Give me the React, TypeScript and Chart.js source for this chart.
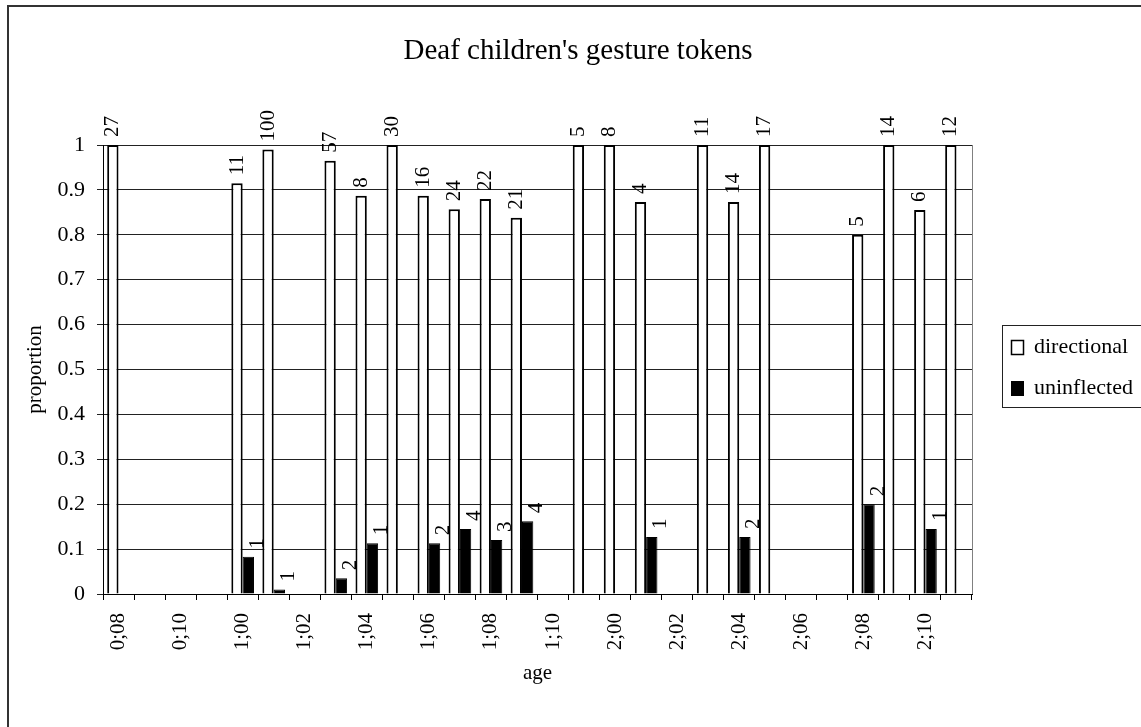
import React, { useEffect, useRef } from 'react';
import { Chart, registerables } from 'chart.js';

Chart.register(...registerables);

const chartTitle = "Deaf children's gesture tokens";
const xTitle = 'age';
const yTitle = 'proportion';
const seriesNames = ['directional', 'uninflected'];

const ages = [
  '0;08', '0;09', '0;10', '0;11', '1;00', '1;01', '1;02', '1;03', '1;04', '1;05',
  '1;06', '1;07', '1;08', '1;09', '1;10', '1;11', '2;00', '2;01', '2;02', '2;03',
  '2;04', '2;05', '2;06', '2;07', '2;08', '2;09', '2;10', '2;11',
];

const directional = [
  1.0, null, null, null, 0.915, 0.99, null, 0.965, 0.887, 1.0,
  0.887, 0.857, 0.88, 0.838, null, 1.0, 1.0, 0.873, null, 1.0,
  0.873, 1.0, null, null, 0.8, 1.0, 0.855, 1.0,
];

const uninflected = [
  null, null, null, null, 0.083, 0.01, null, 0.035, 0.113, null,
  0.113, 0.145, 0.12, 0.162, null, null, null, 0.127, null, null,
  0.127, null, null, null, 0.2, null, 0.145, null,
];

const directionalCounts = [
  27, null, null, null, 11, 100, null, 57, 8, 30,
  16, 24, 22, 21, null, 5, 8, 4, null, 11,
  14, 17, null, null, 5, 14, 6, 12,
];

const uninflectedCounts = [
  null, null, null, null, 1, 1, null, 2, 1, null,
  2, 4, 3, 4, null, null, null, 1, null, null,
  2, null, null, null, 2, null, 1, null,
];

const yTicks = { min: 0, max: 1, step: 0.1 };

const FONT = "'Liberation Serif', 'Times New Roman', serif";

const countLabels = [directionalCounts, uninflectedCounts];

const decorPlugin = {
  id: 'decor',
  beforeDatasetsDraw(chart: any) {
    const { ctx, chartArea } = chart;
    ctx.save();
    ctx.strokeStyle = '#808080';
    ctx.lineWidth = 1;
    ctx.beginPath();
    const rx = Math.round(chartArea.right) + 0.5;
    ctx.moveTo(rx, chartArea.top);
    ctx.lineTo(rx, chartArea.bottom);
    ctx.stroke();
    ctx.restore();
  },
  afterDatasetsDraw(chart: any) {
    const { ctx } = chart;
    ctx.save();
    ctx.fillStyle = '#000';
    ctx.font = `21px ${FONT}`;
    chart.data.datasets.forEach((ds: any, di: number) => {
      const meta = chart.getDatasetMeta(di);
      const counts = countLabels[di];
      const dx = di === 0 ? 0 : 9;
      meta.data.forEach((bar: any, i: number) => {
        const c = counts[i];
        if (c === null || c === undefined || ds.data[i] === null) return;
        ctx.save();
        ctx.translate(bar.x + dx, bar.y - 8);
        ctx.rotate(-Math.PI / 2);
        ctx.textAlign = 'left';
        ctx.textBaseline = 'middle';
        ctx.fillText(String(c), 0, 0);
        ctx.restore();
      });
    });
    ctx.restore();
  },
  afterDraw(chart: any) {
    const { ctx } = chart;
    ctx.save();
    // outer chart border
    ctx.strokeStyle = '#333';
    ctx.lineWidth = 2;
    ctx.beginPath();
    ctx.moveTo(8, 800);
    ctx.lineTo(8, 6);
    ctx.lineTo(1300, 6);
    ctx.stroke();

    // title
    ctx.fillStyle = '#000';
    ctx.font = `29px ${FONT}`;
    ctx.textAlign = 'center';
    ctx.textBaseline = 'alphabetic';
    ctx.fillText(chartTitle, 578, 59);

    // legend
    ctx.strokeStyle = '#222';
    ctx.lineWidth = 1;
    ctx.strokeRect(1002.5, 325.5, 200, 82);
    ctx.fillStyle = '#fff';
    ctx.fillRect(1011, 340, 13, 15);
    ctx.strokeStyle = '#000';
    ctx.lineWidth = 1.5;
    ctx.strokeRect(1011.5, 340.5, 12, 14);
    ctx.fillStyle = '#000';
    ctx.fillRect(1011, 381, 13, 15);
    ctx.font = `22px ${FONT}`;
    ctx.textAlign = 'left';
    ctx.fillText(seriesNames[0], 1034, 353);
    ctx.fillText(seriesNames[1], 1034, 394);
    ctx.restore();
  },
};

export default function App() {
  const canvasRef = useRef<HTMLCanvasElement | null>(null);

  useEffect(() => {
    const canvas = canvasRef.current;
    if (!canvas) return;
    const chart = new Chart(canvas, {
      type: 'bar',
      data: {
        labels: ages,
        datasets: [
          {
            label: seriesNames[0],
            data: directional,
            backgroundColor: '#ffffff',
            borderColor: '#000000',
            borderWidth: 2,
            categoryPercentage: 0.73,
            barPercentage: 1.0,
          },
          {
            label: seriesNames[1],
            data: uninflected,
            backgroundColor: '#000000',
            borderColor: '#000000',
            borderWidth: 1,
            categoryPercentage: 0.73,
            barPercentage: 1.0,
          },
        ],
      },
      options: {
        responsive: false,
        animation: false,
        devicePixelRatio: 1,
        layout: { padding: { top: 145, right: 169, bottom: 0, left: 0 } },
        plugins: {
          legend: { display: false },
          title: { display: false },
          tooltip: { enabled: false },
        },
        scales: {
          x: {
            afterFit: (s: any) => { s.height = 133; },
            grid: {
              drawOnChartArea: false,
              drawTicks: true,
              tickLength: 6,
              color: '#000',
              offset: true,
            },
            border: { color: '#000', width: 1 },
            ticks: {
              autoSkip: false,
              minRotation: 90,
              maxRotation: 90,
              padding: 13,
              color: '#000',
              font: { family: FONT, size: 21 },
              callback: (_v: any, i: number) => (i % 2 === 0 ? ages[i] : ''),
            },
            title: {
              display: true,
              text: xTitle,
              color: '#000',
              font: { family: FONT, size: 21 },
              padding: { top: 0, bottom: 41 },
            },
          },
          y: {
            min: yTicks.min,
            max: yTicks.max,
            afterFit: (s: any) => { s.width = 103; },
            grid: {
              color: '#222',
              lineWidth: 1,
              tickLength: 6,
            },
            border: { color: '#000', width: 1 },
            ticks: {
              stepSize: yTicks.step,
              padding: 12,
              color: '#000',
              font: { family: FONT, size: 22 },
              callback: (v: any) => String(Number(Number(v).toFixed(1))),
            },
            title: {
              display: true,
              text: yTitle,
              color: '#000',
              font: { family: FONT, size: 21 },
              padding: { top: 23, bottom: 0 },
            },
          },
        },
      },
      plugins: [decorPlugin],
    });
    return () => chart.destroy();
  }, []);

  return (
    <div style={{ position: 'fixed', left: 0, top: 0, width: 1141, height: 727, overflow: 'hidden', background: '#fff' }}>
      <canvas ref={canvasRef} width={1141} height={727} style={{ display: 'block' }} />
    </div>
  );
}
